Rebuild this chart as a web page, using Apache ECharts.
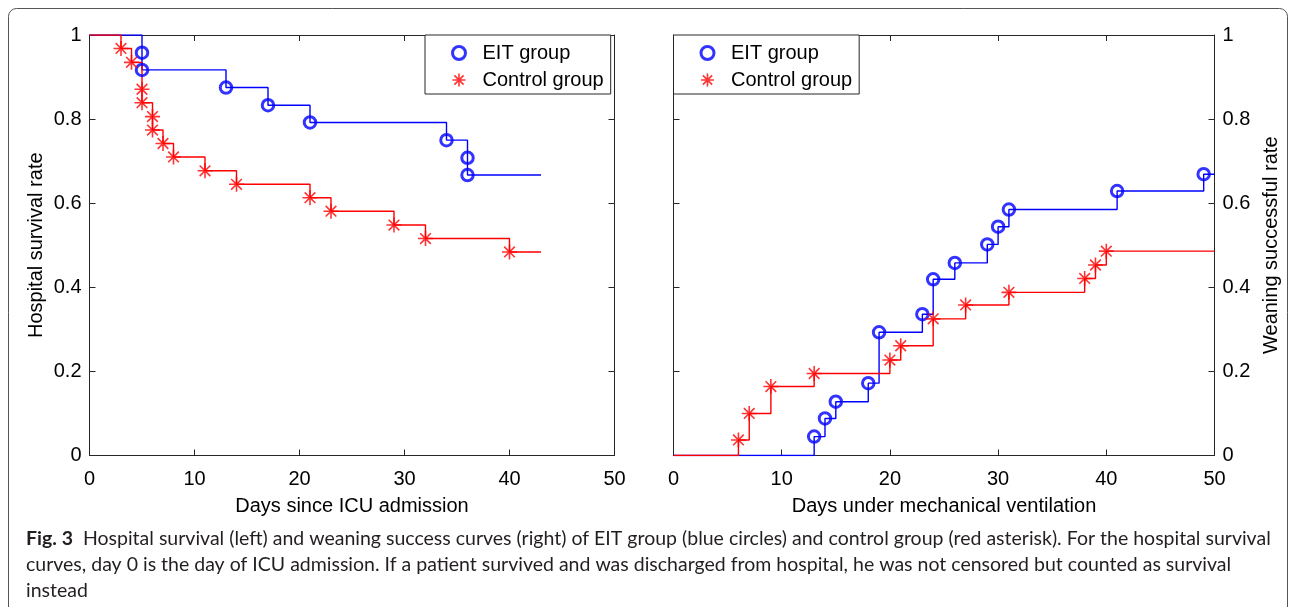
<!DOCTYPE html>
<html><head><meta charset="utf-8">
<script src="https://cdn.jsdelivr.net/npm/echarts@6/dist/echarts.min.js"></script>
<style>html,body{margin:0;padding:0;background:#fff}#c{width:1295px;height:607px}</style>
</head><body><div id="c"></div>
<script>
// ---- data ----
const seriesNames = ['EIT group', 'Control group'];
const xTicks = [0, 10, 20, 30, 40, 50];
const yTicks = [0, 0.2, 0.4, 0.6, 0.8, 1];

// Left panel: hospital survival (Kaplan-Meier), value at each event day
const survEitDays = [5, 5, 13, 17, 21, 34, 36, 36];
const survEitRate = [0.958, 0.917, 0.875, 0.833, 0.792, 0.750, 0.708, 0.667];
const survEitEnd = 43;
const survCtrlDays = [3, 4, 5, 5, 6, 6, 7, 8, 11, 14, 21, 23, 29, 32, 40];
const survCtrlRate = [0.968, 0.935, 0.871, 0.839, 0.806, 0.774, 0.742, 0.710, 0.677, 0.645, 0.613, 0.581, 0.548, 0.516, 0.484];
const survCtrlEnd = 43;
const survStart = 1;

// Right panel: weaning success
const weanEitDays = [13, 14, 15, 18, 19, 23, 24, 26, 29, 30, 31, 41, 49];
const weanEitRate = [0.045, 0.088, 0.128, 0.172, 0.293, 0.336, 0.419, 0.458, 0.502, 0.544, 0.585, 0.629, 0.669];
const weanEitEnd = 50;
const weanCtrlDays = [6, 7, 9, 13, 20, 21, 24, 27, 31, 38, 39, 40];
const weanCtrlRate = [0.037, 0.100, 0.164, 0.195, 0.227, 0.261, 0.325, 0.358, 0.388, 0.421, 0.453, 0.486];
const weanCtrlEnd = 50;
const weanStart = 0;

const captionBold = 'Fig. 3';
const captionLines = [
  'Hospital survival (left) and weaning success curves (right) of EIT group (blue circles) and control group (red asterisk). For the hospital survival',
  'curves, day 0 is the day of ICU admission. If a patient survived and was discharged from hospital, he was not censored but counted as survival',
  'instead'
];

// ---- helpers ----
function pts(days, rates) { return days.map((d, i) => [d, rates[i]]); }
function stepData(start, days, rates, end) {
  return [[0, start]].concat(pts(days, rates), [[end, rates[rates.length - 1]]]);
}
const BLUE = '#0000ff', RED = '#ff0000', AX = '#262626';
const FONT = '"Liberation Sans", Arial, sans-serif';
const CAPFONT = 'Lato, "Liberation Sans", sans-serif';
const CAPSIZE = 19.5;
const ASTER = 'path://M10,0 L10,20 M0,10 L20,10 M2.9,2.9 L17.1,17.1 M2.9,17.1 L17.1,2.9';
const circleStyle = { color: 'rgba(0,0,0,0)', borderColor: BLUE, borderWidth: 3 };
const asterStyle = { color: 'rgba(0,0,0,0)', borderColor: RED, borderWidth: 1.6 };

function xAx(grid, pos, show, name) {
  return {
    type: 'value', gridIndex: grid, position: pos, min: xTicks[0], max: xTicks[xTicks.length - 1], interval: xTicks[1] - xTicks[0],
    axisLine: { show: true, onZero: false, lineStyle: { color: AX, width: 1 } },
    axisTick: { show: true, inside: true, length: 6, lineStyle: { color: AX } },
    axisLabel: { show: show, margin: 14, fontSize: 20, fontFamily: FONT, color: '#000', showMinLabel: true, showMaxLabel: true, hideOverlap: false },
    splitLine: { show: false },
    name: name || '', nameLocation: 'middle', nameGap: 41, nameMoveOverlap: false,
    nameTextStyle: { fontSize: 20, fontFamily: FONT, color: '#000' }
  };
}
function yAx(grid, pos, show, name, gap) {
  return {
    type: 'value', gridIndex: grid, position: pos, min: yTicks[0], max: yTicks[yTicks.length - 1], interval: yTicks[1] - yTicks[0],
    axisLine: { show: true, onZero: false, lineStyle: { color: AX, width: 1 } },
    axisTick: { show: true, inside: true, length: 6, lineStyle: { color: AX } },
    axisLabel: { show: show, margin: 8, fontSize: 20, fontFamily: FONT, color: '#000', showMinLabel: true, showMaxLabel: true, hideOverlap: false,
      formatter: v => String(Math.round(v * 10) / 10) },
    splitLine: { show: false },
    name: name || '', nameLocation: 'middle', nameGap: gap || 43, nameRotate: 90, nameMoveOverlap: false,
    nameTextStyle: { fontSize: 20, fontFamily: FONT, color: '#000' }
  };
}
function stepLine(name, xi, data, color) {
  return { name: name, type: 'line', xAxisIndex: xi, yAxisIndex: xi, data: data, step: 'end', showSymbol: false, silent: true,
    lineStyle: { color: color, width: 1.4 }, itemStyle: { color: color }, z: 2 };
}
function marks(name, xi, data, isEit) {
  return { name: name, type: 'scatter', xAxisIndex: xi, yAxisIndex: xi, data: data,
    symbol: isEit ? 'circle' : ASTER, symbolSize: isEit ? 11.5 : 15,
    itemStyle: isEit ? circleStyle : asterStyle, z: 3, silent: true };
}
function legend(left) {
  return {
    left: left, top: 35, orient: 'vertical', selectedMode: false,
    data: [{ name: seriesNames[0], itemStyle: { borderWidth: 3 } }, { name: seriesNames[1], itemStyle: { borderWidth: 1.6 } }],
    backgroundColor: '#fff', borderColor: AX, borderWidth: 1, borderRadius: 0,
    padding: [8, 7, 4, 26], itemGap: 7, itemWidth: 13, itemHeight: 13,
    textStyle: { fontSize: 20, fontFamily: FONT, color: '#000', padding: [0, 0, 0, 12], lineHeight: 20 }, z: 10
  };
}

const chart = echarts.init(document.getElementById('c'), null, { renderer: 'canvas' });
chart.setOption({
  animation: false,
  backgroundColor: '#fff',
  grid: [
    { left: 89.5, top: 35, width: 525, height: 420.5, containLabel: false },
    { left: 673.5, top: 35, width: 541, height: 420.5, containLabel: false }
  ],
  xAxis: [
    xAx(0, 'bottom', true, 'Days since ICU admission'), xAx(0, 'top', false),
    xAx(1, 'bottom', true, 'Days under mechanical ventilation'), xAx(1, 'top', false)
  ],
  yAxis: [
    yAx(0, 'left', true, 'Hospital survival rate', 43), yAx(0, 'right', false),
    yAx(1, 'right', true, 'Weaning successful rate', 47), yAx(1, 'left', false)
  ],
  legend: [legend(425), legend(673.5)],
  series: [
    stepLine('eitSurvLine', 0, stepData(survStart, survEitDays, survEitRate, survEitEnd), BLUE),
    stepLine('ctrlSurvLine', 0, stepData(survStart, survCtrlDays, survCtrlRate, survCtrlEnd), RED),
    marks(seriesNames[0], 0, pts(survEitDays, survEitRate), true),
    marks(seriesNames[1], 0, pts(survCtrlDays, survCtrlRate), false),
    { ...stepLine('eitWeanLine', 0, stepData(weanStart, weanEitDays, weanEitRate, weanEitEnd), BLUE), xAxisIndex: 2, yAxisIndex: 2 },
    { ...stepLine('ctrlWeanLine', 0, stepData(weanStart, weanCtrlDays, weanCtrlRate, weanCtrlEnd), RED), xAxisIndex: 2, yAxisIndex: 2 },
    { ...marks(seriesNames[0], 0, pts(weanEitDays, weanEitRate), true), xAxisIndex: 2, yAxisIndex: 2 },
    { ...marks(seriesNames[1], 0, pts(weanCtrlDays, weanCtrlRate), false), xAxisIndex: 2, yAxisIndex: 2 }
  ],
  graphic: [
    { type: 'rect', silent: true, shape: { x: 8.5, y: 8.5, width: 1279, height: 700, r: 8 },
      style: { fill: 'none', stroke: '#555', lineWidth: 1 } },
    { type: 'text', silent: true, x: 26, y: 539,
      style: { text: '{b|' + captionBold + '}  ' + captionLines[0], fill: '#231f20', font: CAPSIZE + 'px ' + CAPFONT, verticalAlign: 'middle',
        rich: { b: { fontWeight: 'bold', fontSize: CAPSIZE, fontFamily: CAPFONT, fill: '#231f20' } } } },
    { type: 'text', silent: true, x: 26, y: 565,
      style: { text: captionLines[1], fill: '#231f20', font: CAPSIZE + 'px ' + CAPFONT, verticalAlign: 'middle' } },
    { type: 'text', silent: true, x: 26, y: 591,
      style: { text: captionLines[2], fill: '#231f20', font: CAPSIZE + 'px ' + CAPFONT, verticalAlign: 'middle' } }
  ]
});
</script></body></html>
